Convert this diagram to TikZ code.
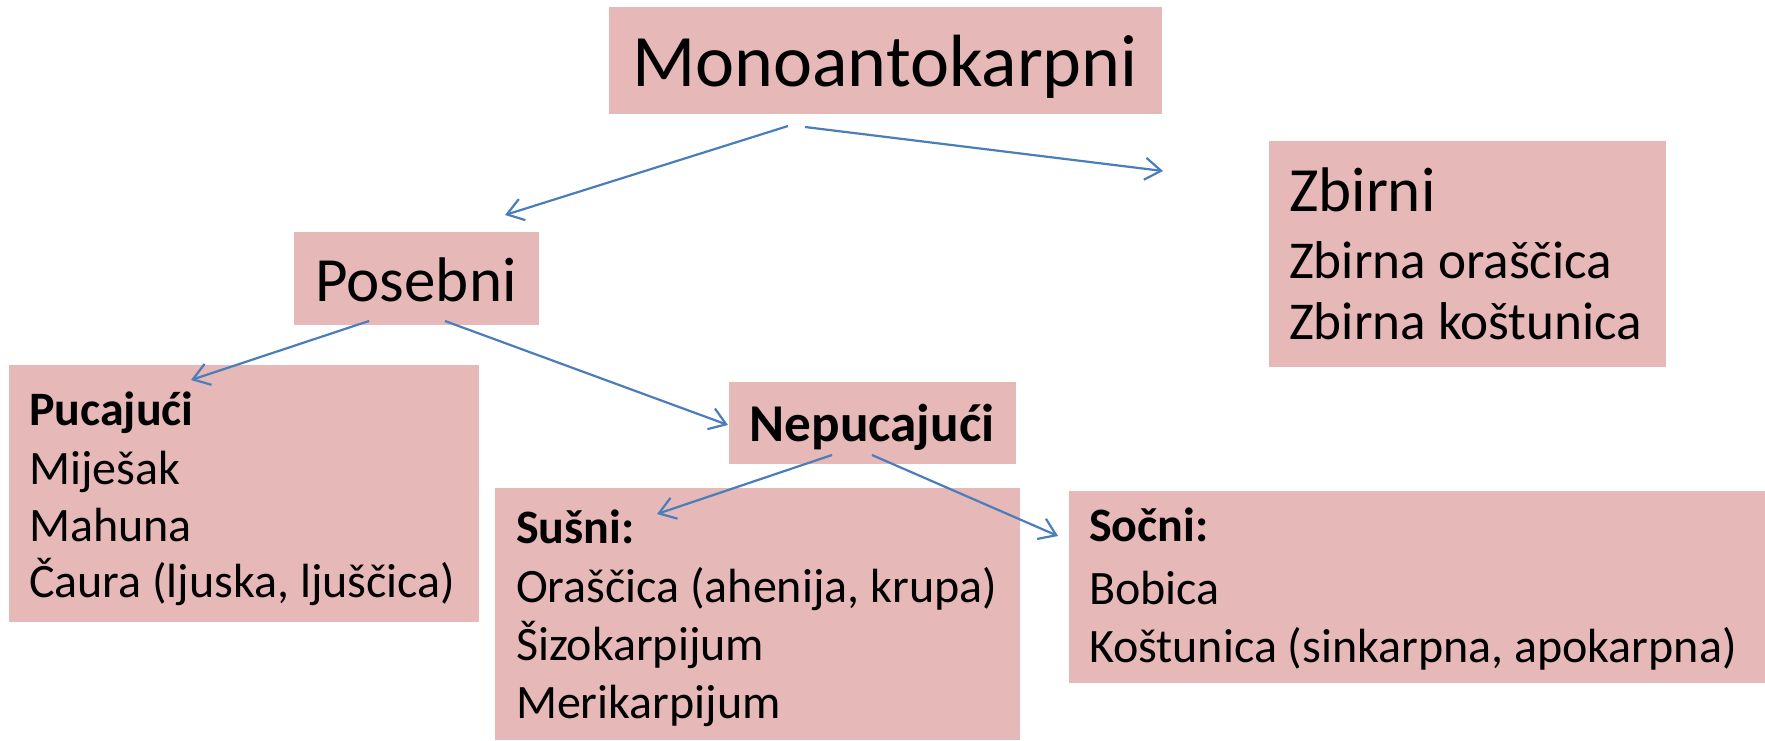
\documentclass[tikz,border=0pt]{standalone}
\usepackage{fontspec}
\setmainfont{Carlito}
\usetikzlibrary{arrows.meta,fit}
\definecolor{boxpink}{HTML}{E6B8B7}
\definecolor{connblue}{HTML}{4A7EBB}
\begin{document}
\begin{tikzpicture}[x=0.5pt,y=-0.5pt,
  boxfill/.style={fill=boxpink,draw=none,inner sep=0pt},
  txt/.style={inner sep=0pt,outer sep=0pt,text=black},
  conn/.style={draw=connblue,line width=1.1pt,-{Straight Barb[length=8pt,width=11pt,line width=1.1pt]}},
  huge/.style={txt,font=\fontsize{37}{44}\selectfont},
  big/.style={txt,font=\fontsize{31.5}{37}\selectfont},
  mid/.style={txt,font=\fontsize{26.6}{31}\selectfont},
  small/.style={txt,font=\fontsize{24}{29}\selectfont}]
\useasboundingbox (0,0) rectangle (1765,740);
% boxes
\node[boxfill,fit={(609,7) (1162,114)}] (monobox) {};
\node[boxfill,fit={(1269,141) (1666,367)}] (zbirnibox) {};
\node[boxfill,fit={(294,232) (539,325)}] (posebnibox) {};
\node[boxfill,fit={(9,365) (479,622)}] (pucbox) {};
\node[boxfill,fit={(729,382) (1016,464)}] (nepbox) {};
\node[boxfill,fit={(495,488) (1020,740)}] (susbox) {};
\node[boxfill,fit={(1069,491) (1765,683)}] (socbox) {};
% texts
\node[huge,anchor=base] (monot) at (885,86) {Monoantokarpni};
\node[big,anchor=base] (posebnit) at (416,301) {Posebni};
\node[big,anchor=base west] (zb0) at (1289,211) {Zbirni};
\node[mid,anchor=base west] (zb1) at (1289,278) {Zbirna oraščica};
\node[mid,anchor=base west] (zb2) at (1289,339) {Zbirna koštunica};
\node[mid,anchor=base] (nept) at (872,441) {\bfseries Nepucajući};
\node[small,anchor=base west] (pu0) at (29,425) {\bfseries Pucajući};
\node[small,anchor=base west] (pu1) at (29,484) {Miješak};
\node[small,anchor=base west] (pu2) at (29,541) {Mahuna};
\node[small,anchor=base west] (pu3) at (29,597) {Čaura (ljuska, ljuščica)};
\node[small,anchor=base west] (su0) at (516,543) {\bfseries Sušni:};
\node[small,anchor=base west] (su1) at (516,602) {Oraščica (ahenija, krupa)};
\node[small,anchor=base west] (su2) at (516,660) {Šizokarpijum};
\node[small,anchor=base west] (su3) at (516,718) {Merikarpijum};
\node[small,anchor=base west] (so0) at (1089,541) {\bfseries Sočni:};
\node[small,anchor=base west] (so1) at (1089,604) {Bobica};
\node[small,anchor=base west] (so2) at (1089,662) {Koštunica (sinkarpna, apokarpna)};
% connector end points
\coordinate (m1) at (788,126);
\coordinate (m2) at (805,127);
\coordinate (p1) at (369,321);
\coordinate (p2) at (445,321);
\coordinate (n1) at (832,455);
\coordinate (n2) at (872,455);
\coordinate (toPos) at (505,215);
\coordinate (toZb) at (1163,171);
\coordinate (toPuc) at (191,380);
\coordinate (toNep) at (728,425);
\coordinate (toSus) at (657,514);
\coordinate (toSoc) at (1058,536);
\draw[conn] (m1) -- (toPos);
\draw[conn] (m2) -- (toZb);
\draw[conn] (p1) -- (toPuc);
\draw[conn] (p2) -- (toNep);
\draw[conn] (n1) -- (toSus);
\draw[conn] (n2) -- (toSoc);
\end{tikzpicture}
\end{document}
